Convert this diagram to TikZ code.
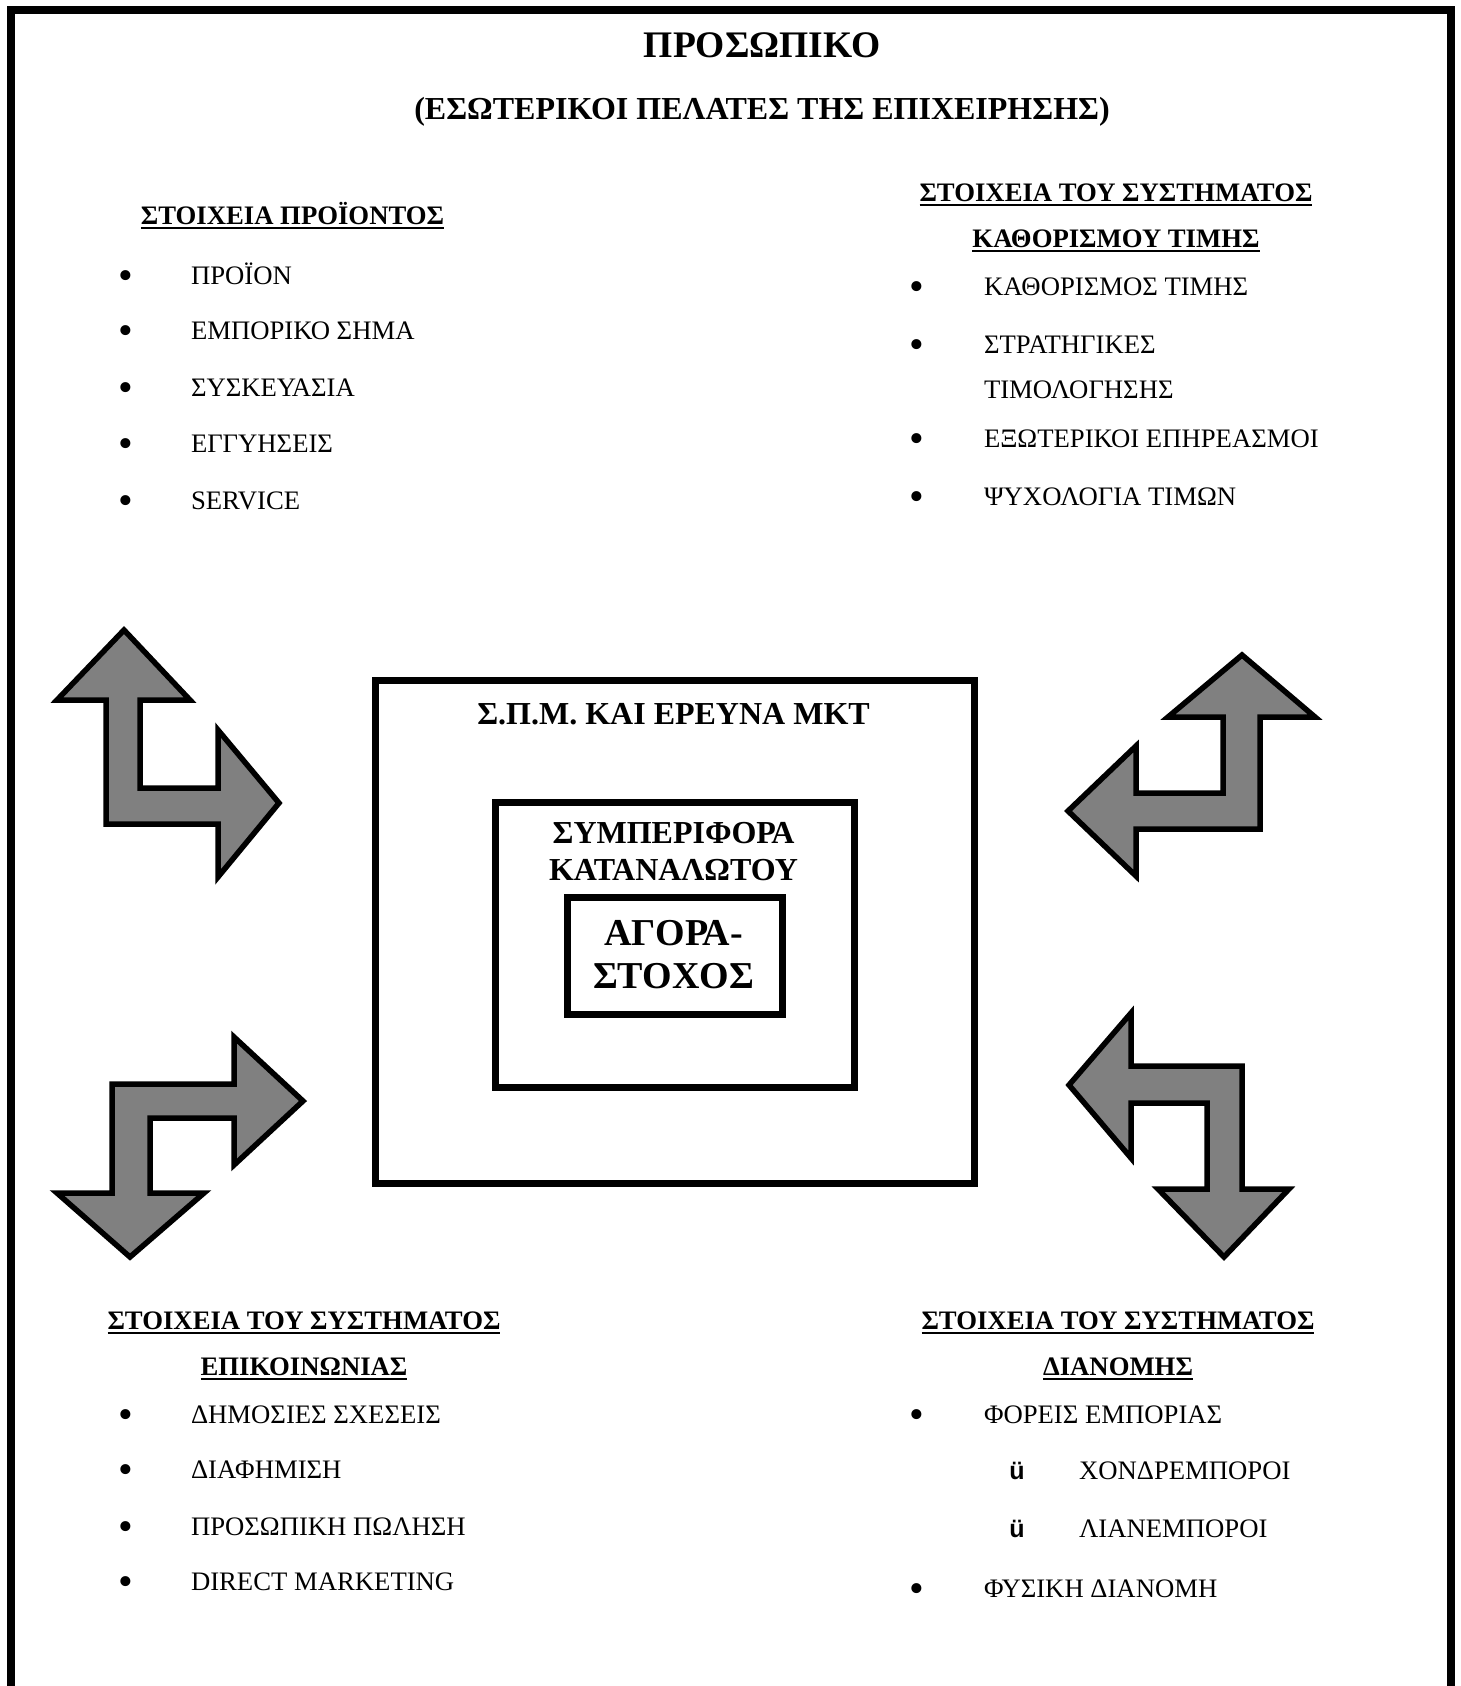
\documentclass[tikz,border=0pt]{standalone}
\usepackage{fontspec}
\setmainfont{Liberation Serif}
\newfontfamily\checkfont{Liberation Sans}
\begin{document}
\begin{tikzpicture}[x=1pt,y=-1pt,
  txt/.style={inner sep=0pt, outer sep=0pt},
  titletext/.style={txt, anchor=base, font=\fontsize{37.5}{44}\selectfont\bfseries},
  subtitletext/.style={txt, anchor=base, font=\fontsize{32}{38}\selectfont\bfseries},
  headtext/.style={txt, anchor=base, font=\fontsize{26.7}{32}\selectfont\bfseries},
  itemtext/.style={txt, anchor=base west, font=\fontsize{26.7}{32}\selectfont},
  bulletdot/.style={txt, anchor=base, yshift=-5pt, font=\fontsize{42}{48}\selectfont},
  ticktext/.style={txt, anchor=base, font=\fontsize{25}{30}\selectfont\checkfont\bfseries},
  boxlabel/.style={txt, anchor=base, font=\fontsize{32}{38}\selectfont\bfseries},
  coretext/.style={txt, anchor=base, font=\fontsize{38}{44}\selectfont\bfseries},
  underl/.style={line width=2.5pt},
  framebox/.style={draw, line width=7pt, inner sep=0pt, outer sep=0pt},
  bentarrow/.style={draw=black, fill=black!50, line width=5.5pt, line join=miter, miter limit=10},
]
\useasboundingbox (0,0) rectangle (1461,1686);

% page frame, open at the bottom
\draw[line width=8pt] (11,1686) -- (11,10) -- (1451,10) -- (1451,1686);

% title
\node[titletext] (title) at (762,58) {ΠΡΟΣΩΠΙΚΟ};
\node[subtitletext] (subtitle) at (762,119.5) {(ΕΣΩΤΕΡΙΚΟΙ ΠΕΛΑΤΕΣ ΤΗΣ ΕΠΙΧΕΙΡΗΣΗΣ)};

% product elements
\node[headtext] (hprod) at (292.5,224) {ΣΤΟΙΧΕΙΑ ΠΡΟΪΟΝΤΟΣ};
\draw[underl] ([yshift=-4pt]hprod.base west) -- ([yshift=-4pt]hprod.base east);
\foreach \y/\t [count=\i] in {284/ΠΡΟΪΟΝ, 339/ΕΜΠΟΡΙΚΟ ΣΗΜΑ, 396/ΣΥΣΚΕΥΑΣΙΑ, 452/ΕΓΓΥΗΣΕΙΣ, 509/SERVICE}{
  \node[bulletdot] (pb\i) at (126,\y) {•};
  \node[itemtext] (pi\i) at (191,\y) {\t};
}

% pricing elements
\node[headtext] (hprice1) at (1116,201) {ΣΤΟΙΧΕΙΑ ΤΟΥ ΣΥΣΤΗΜΑΤΟΣ};
\draw[underl] ([yshift=-4pt]hprice1.base west) -- ([yshift=-4pt]hprice1.base east);
\node[headtext] (hprice2) at (1116,247) {ΚΑΘΟΡΙΣΜΟΥ ΤΙΜΗΣ};
\draw[underl] ([yshift=-4pt]hprice2.base west) -- ([yshift=-4pt]hprice2.base east);
\node[bulletdot] (rb1) at (917,295) {•};
\node[itemtext] (ri1) at (984,295) {ΚΑΘΟΡΙΣΜΟΣ ΤΙΜΗΣ};
\node[bulletdot] (rb2) at (917,353) {•};
\node[itemtext] (ri2) at (984,353) {ΣΤΡΑΤΗΓΙΚΕΣ};
\node[itemtext] (ri2b) at (984,398) {ΤΙΜΟΛΟΓΗΣΗΣ};
\node[bulletdot] (rb3) at (917,447) {•};
\node[itemtext] (ri3) at (984,447) {ΕΞΩΤΕΡΙΚΟΙ ΕΠΗΡΕΑΣΜΟΙ};
\node[bulletdot] (rb4) at (917,505) {•};
\node[itemtext] (ri4) at (984,505) {ΨΥΧΟΛΟΓΙΑ ΤΙΜΩΝ};

% communication elements
\node[headtext] (hcom1) at (304,1329) {ΣΤΟΙΧΕΙΑ ΤΟΥ ΣΥΣΤΗΜΑΤΟΣ};
\draw[underl] ([yshift=-4pt]hcom1.base west) -- ([yshift=-4pt]hcom1.base east);
\node[headtext] (hcom2) at (304,1375) {ΕΠΙΚΟΙΝΩΝΙΑΣ};
\draw[underl] ([yshift=-4pt]hcom2.base west) -- ([yshift=-4pt]hcom2.base east);
\foreach \y/\t [count=\i] in {1423/ΔΗΜΟΣΙΕΣ ΣΧΕΣΕΙΣ, 1478/ΔΙΑΦΗΜΙΣΗ, 1535/ΠΡΟΣΩΠΙΚΗ ΠΩΛΗΣΗ, 1590/DIRECT MARKETING}{
  \node[bulletdot] (cb\i) at (126,\y) {•};
  \node[itemtext] (ci\i) at (191,\y) {\t};
}

% distribution elements
\node[headtext] (hdist1) at (1118,1329) {ΣΤΟΙΧΕΙΑ ΤΟΥ ΣΥΣΤΗΜΑΤΟΣ};
\draw[underl] ([yshift=-4pt]hdist1.base west) -- ([yshift=-4pt]hdist1.base east);
\node[headtext] (hdist2) at (1118,1375) {ΔΙΑΝΟΜΗΣ};
\draw[underl] ([yshift=-4pt]hdist2.base west) -- ([yshift=-4pt]hdist2.base east);
\node[bulletdot] (db1) at (917,1423) {•};
\node[itemtext] (di1) at (984,1423) {ΦΟΡΕΙΣ ΕΜΠΟΡΙΑΣ};
\node[ticktext] (dt1) at (1017,1479) {ü};
\node[itemtext] (di2) at (1079,1479) {ΧΟΝΔΡΕΜΠΟΡΟΙ};
\node[ticktext] (dt2) at (1017,1537) {ü};
\node[itemtext] (di3) at (1079,1537) {ΛΙΑΝΕΜΠΟΡΟΙ};
\node[bulletdot] (db2) at (917,1597) {•};
\node[itemtext] (di4) at (984,1597) {ΦΥΣΙΚΗ ΔΙΑΝΟΜΗ};

% nested boxes
\node[framebox, minimum width=599pt, minimum height=503pt] (outerbox) at (674.5,932) {};
\node[framebox, minimum width=359pt, minimum height=285pt] (midbox) at (674.5,944.5) {};
\node[framebox, minimum width=215pt, minimum height=117pt] (innerbox) at (674.5,955.5) {};
\node[boxlabel] (spm) at (673.5,724.5) {Σ.Π.Μ. ΚΑΙ ΕΡΕΥΝΑ ΜΚΤ};
\node[boxlabel] (beh1) at (673.5,843) {ΣΥΜΠΕΡΙΦΟΡΑ};
\node[boxlabel] (beh2) at (673.5,880) {ΚΑΤΑΝΑΛΩΤΟΥ};
\node[coretext] (tgt1) at (673.5,945.5) {ΑΓΟΡΑ-};
\node[coretext] (tgt2) at (673.5,988.5) {ΣΤΟΧΟΣ};

% bent double arrows
\draw[bentarrow] (124,630) -- (190,700) -- (140,700) -- (140,788) -- (218,788) -- (218,730)
  -- (279,803) -- (218,877) -- (218,824) -- (106,824) -- (106,700) -- (57,700) -- cycle;
\draw[bentarrow] (1242,655) -- (1315,717) -- (1260,717) -- (1260,829) -- (1136,829) -- (1136,876)
  -- (1068,811) -- (1136,746) -- (1136,793) -- (1223,793) -- (1223,717) -- (1168,717) -- cycle;
\draw[bentarrow] (303,1101) -- (234,1165) -- (234,1118) -- (150,1118) -- (150,1193) -- (204,1193)
  -- (130,1257) -- (57,1193) -- (112,1193) -- (112,1084) -- (234,1084) -- (234,1037) -- cycle;
\draw[bentarrow] (1069,1085) -- (1131,1013) -- (1131,1066) -- (1242,1066) -- (1242,1189) -- (1289,1189)
  -- (1224,1257) -- (1158,1189) -- (1207,1189) -- (1207,1103) -- (1131,1103) -- (1131,1158) -- cycle;
\end{tikzpicture}
\end{document}
